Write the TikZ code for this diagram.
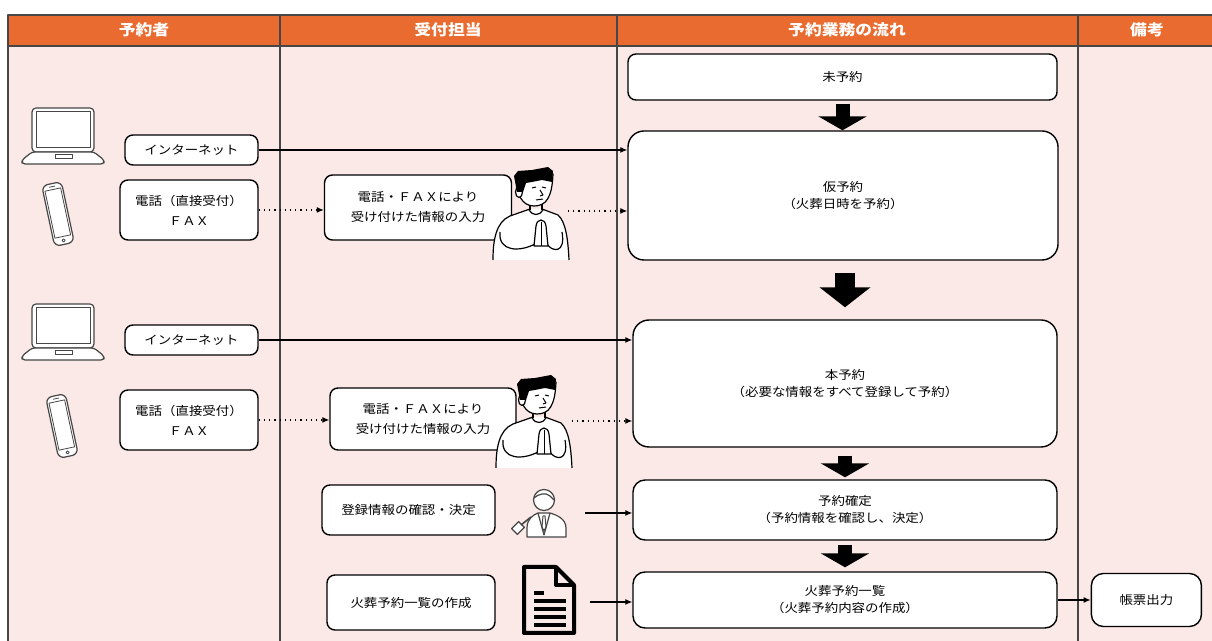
\documentclass[tikz,border=0pt]{standalone}
\usepackage{fontspec}
\setmainfont{Noto Sans CJK JP}[FakeStretch=1.12]
\usetikzlibrary{positioning,arrows.meta}

\definecolor{oranssi}{RGB}{233,107,47}
\definecolor{pohja}{RGB}{250,233,230}
\definecolor{reuna}{RGB}{70,70,70}

\begin{document}
\begin{tikzpicture}[x=0.5pt, y=-0.5pt, line join=round,
    laatikko/.style={draw=black, line width=0.7pt, rounded corners=4pt, fill=white,
        align=center, inner sep=0pt, font=\fontsize{6}{10}\selectfont},
    kulku/.style={laatikko, rounded corners=8pt, font=\fontsize{6}{8.5}\selectfont},
    otsikko/.style={text=white, font=\fontsize{7.5}{9}\selectfont\bfseries},
    viiva/.style={-{Latex[length=3.5pt,width=3pt]}, line width=0.6pt},
    pisteet/.style={viiva, dotted},
    nuoli/.style={line width=7pt, line cap=butt, -{Triangle[width=24pt,length=7pt]}},
    kannettava/.pic={
        \draw[reuna, line width=0.6pt, fill=white, rounded corners=2pt] (10,0) rectangle (72,44);
        \draw[reuna, line width=0.5pt] (14,4) rectangle (68,40);
        \draw[reuna, line width=0.6pt, fill=white, rounded corners=1.5pt]
            (10,44) -- (72,44) -- (82,52) -- (82,56) -- (0,56) -- (0,52) -- cycle;
        \draw[reuna, line width=0.5pt] (33,47) rectangle (50,51);
    },
    puhelin/.pic={
        \begin{scope}[rotate=12]
        \draw[reuna, line width=0.6pt, fill=white, rounded corners=3pt] (-10,-31) rectangle (10,31);
        \draw[reuna, line width=0.4pt] (-8,-25) rectangle (8,23);
        \draw[reuna, line width=0.4pt] (-3,-28) -- (3,-28);
        \draw[reuna, line width=0.4pt] (0,27) circle (1.6);
        \end{scope}
    },
    henkilo/.pic={
        \fill[white] (13,100) .. controls (13,80) and (16,62) .. (30,56) -- (50,49)
            -- (62,49) -- (78,55) .. controls (86,62) and (88,80) .. (89,100) -- cycle;
        \draw[line width=0.6pt] (13,100) .. controls (13,80) and (16,62) .. (30,56) -- (50,49);
        \draw[line width=0.6pt] (62,49) -- (78,55) .. controls (86,62) and (88,80) .. (89,100);
        \draw[line width=0.6pt] (49,50) .. controls (52,56) and (60,56) .. (63,50);
        \draw[line width=0.6pt] (50,40) -- (50,50) (62,42) -- (62,50);
        \draw[line width=0.6pt, fill=white] (37,18) .. controls (36,34) and (42,46) .. (54,46)
            .. controls (66,46) and (72,38) .. (73,14) -- cycle;
        \draw[line width=0.6pt, fill=white] (39,32) ellipse (3.5 and 5.5);
        \fill (37,32) -- (34,16) -- (38,11) -- (52,10) -- (68,7) -- (73,11) -- (72,22)
            -- (62,20) -- (52,22) -- (46,23) -- (43,32) -- cycle;
        \draw[line width=0.5pt] (52,28) -- (56,27) (62,27) -- (66,28);
        \draw[line width=0.5pt] (60,30) -- (63,35) -- (60,36);
        \draw[line width=0.5pt] (56,40) -- (63,39);
        \draw[line width=0.6pt] (20,72) .. controls (18,92) and (40,92) .. (55,84);
        \draw[line width=0.6pt] (82,72) .. controls (86,94) and (72,92) .. (67,84);
        \draw[line width=0.6pt, fill=white] (54,86) -- (56,66) .. controls (57,58) and (65,58) .. (66,66)
            -- (68,86) -- cycle;
        \draw[line width=0.5pt] (61,62) -- (61,86);
    },
    tuomari/.pic={
        \draw[reuna, line width=0.6pt, fill=white] (27,57) -- (27,48) .. controls (27,39) and (33,35) .. (38,33)
            -- (50,33) .. controls (57,35) and (66,39) .. (66,48) -- (66,57) -- cycle;
        \draw[reuna, line width=0.6pt] (38,33) -- (44,55) -- (50,33);
        \draw[reuna, line width=0.5pt] (43,36) -- (45,36) -- (46,47) -- (44,51) -- (42,47) -- cycle;
        \draw[reuna, line width=0.6pt, fill=white] (44,20) circle (10.5);
        \draw[reuna, line width=0.6pt] (34,18) .. controls (38,14) and (46,12) .. (50,16)
            .. controls (52,18) and (53,19) .. (54,20);
        \draw[reuna, line width=0.6pt, fill=white, rotate around={45:(18,48)}] (13,44) rectangle (23,52);
        \draw[reuna, line width=0.8pt] (21,45) -- (31,37);
    },
    asiakirja/.pic={
        \draw[line width=2pt] (2,2) -- (34,2) -- (52,20) -- (52,68) -- (2,68) -- cycle;
        \draw[line width=2pt] (34,2) -- (34,20) -- (52,20);
        \draw[line width=1.8pt] (12,28) -- (22,28);
        \foreach \y in {36,44,52,60} \draw[line width=1.8pt] (12,\y) -- (44,\y);
    }]

\useasboundingbox (0,0) rectangle (1212,641);

% otsikkorivi ja sarakkeet
\fill[pohja] (8,46) rectangle (1212,641);
\fill[oranssi] (8,15) rectangle (1212,46);
\draw[reuna, line width=0.8pt] (8,46) -- (1212,46);
\foreach \x in {280,617,1078} \draw[reuna, line width=0.8pt] (\x,15) -- (\x,641);
\draw[reuna, line width=1.4pt] (1212,15) -- (8,15) -- (8,641);

\node[otsikko] (O1) at (144,30) {予約者};
\node[otsikko] (O2) at (448,30) {受付担当};
\node[otsikko] (O3) at (847,30) {予約業務の流れ};
\node[otsikko] (O4) at (1147,30) {備考};

% kulku
\node[laatikko, minimum width=214.5pt, minimum height=23pt] (MY) at (842.5,77) {未予約};
\node[kulku, minimum width=215pt, minimum height=64.5pt] (KY) at (843,195.5) {仮予約\\（火葬日時を予約）};
\node[kulku, minimum width=212pt, minimum height=63.5pt] (HY) at (845,383.5) {本予約\\（必要な情報をすべて登録して予約）};
\node[kulku, rounded corners=6pt, minimum width=212pt, minimum height=30pt] (YK) at (845,510) {予約確定\\（予約情報を確認し、決定）};
\node[kulku, rounded corners=6pt, minimum width=212pt, minimum height=28pt] (IR) at (845,600) {火葬予約一覧\\（火葬予約内容の作成）};
\node[laatikko, rounded corners=6pt, minimum width=55pt, minimum height=26.5pt] (CH) [right=16.5pt of IR] {帳票出力};

% vastaanotto
\node[laatikko, minimum width=66.5pt, minimum height=15pt] (NET1) at (191.5,150) {インターネット};
\node[laatikko, minimum width=69pt, minimum height=30pt] (TEL1) at (189,210) {電話（直接受付）\\ＦＡＸ};
\node[laatikko, minimum width=93.5pt, minimum height=32.5pt] (IN1) at (418,207.5) {電話・ＦＡＸにより\\受け付けた情報の入力};
\node[laatikko, minimum width=66.5pt, minimum height=15pt] (NET2) at (191.5,340) {インターネット};
\node[laatikko, minimum width=69pt, minimum height=30pt] (TEL2) at (189,420) {電話（直接受付）\\ＦＡＸ};
\node[laatikko, minimum width=93pt, minimum height=31pt] (IN2) at (423,419) {電話・ＦＡＸにより\\受け付けた情報の入力};
\node[laatikko, minimum width=86.5pt, minimum height=25pt] (KV) at (408.5,510) {登録情報の確認・決定};
\node[laatikko, minimum width=84pt, minimum height=27.5pt] (LA) at (411,602.5) {火葬予約一覧の作成};

\pic at (22,108) {kannettava};
\pic at (58,214) {puhelin};
\pic at (22,304) {kannettava};
\pic at (62,426) {puhelin};
\pic at (480,160) {henkilo};
\pic at (483,368) {henkilo};
\pic at (500,480) {tuomari};
\pic at (522,565) {asiakirja};

\coordinate (P1) at (568,211);
\coordinate (P2) at (572,421);
\coordinate (V1) at (585,513);
\coordinate (D1) at (590,602);

\path[viiva]
    (NET1) edge (NET1 -| KY.west)
    (NET2) edge (NET2 -| HY.west)
    (V1) edge (V1 -| YK.west)
    (D1) edge (D1 -| IR.west)
    (IR) edge (CH);
\path[pisteet]
    (TEL1) edge (TEL1 -| IN1.west)
    (P1) edge (P1 -| KY.west)
    (TEL2) edge (TEL2 -| IN2.west)
    (P2) edge (P2 -| HY.west);

\path[nuoli]
    (MY.south) edge[shorten <=1.5pt] (MY.south |- KY.north)
    (KY.south -| HY.north) edge[line width=10pt, -{Triangle[width=25pt,length=10pt]}, shorten <=6pt, shorten >=6pt] (HY.north)
    (HY.south) edge[shorten <=4pt, shorten >=1pt] (YK.north)
    (YK.south) edge[shorten <=2pt, shorten >=2pt] (IR.north);
\end{tikzpicture}
\end{document}
